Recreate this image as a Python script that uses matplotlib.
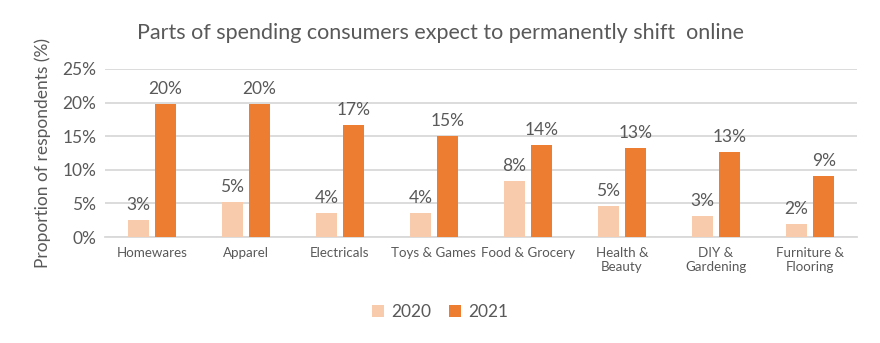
import numpy as np
import matplotlib.pyplot as plt

categories = ["Homewares", "Apparel", "Electricals", "Toys & Games", "Food & Grocery",
              "Health &\nBeauty", "DIY &\nGardening", "Furniture &\nFlooring"]
vals_2020 = [2.6, 5.2, 3.6, 3.6, 8.3, 4.6, 3.1, 1.9]
vals_2021 = [19.8, 19.8, 16.6, 15.0, 13.7, 13.2, 12.6, 9.1]
years = ["2020", "2021"]

c2020 = "#F8CBAD"
c2021 = "#ED7D31"
txt = "#595959"
grid = "#D9D9D9"

plt.rcParams['font.family'] = ['Lato', 'DejaVu Sans']

fig = plt.figure(figsize=(8.8, 3.43), dpi=100)
ax = fig.add_axes([0.119, 0.309, 0.855, 0.49])

x = np.arange(len(categories))
w = 0.225
off = 0.144
b1 = ax.bar(x - off, vals_2020, w, color=c2020, label=years[0], zorder=3)
b2 = ax.bar(x + off, vals_2021, w, color=c2021, label=years[1], zorder=3)

for bars in (b1, b2):
    for r in bars:
        v = r.get_height()
        ax.annotate("%d%%" % round(v), (r.get_x() + r.get_width() / 2, v),
                    xytext=(0, 5), textcoords="offset points",
                    ha="center", va="bottom", fontsize=12.5, color=txt)

ax.set_xlim(-0.5, len(categories) - 0.5)
ax.set_ylim(0, 25)
ax.set_yticks([0, 5, 10, 15, 20, 25])
ax.set_yticklabels(["%d%%" % t for t in [0, 5, 10, 15, 20, 25]], fontsize=12.5, color=txt)
ax.set_xticks(x)
ax.set_xticklabels(categories, fontsize=9.6, color=txt, linespacing=1.2)
ax.tick_params(axis="both", length=0)
ax.tick_params(axis="x", pad=7)
ax.tick_params(axis="y", pad=6)

ax.grid(axis="y", color=grid, linewidth=1.3, zorder=0)
for s in ["left", "right", "top"]:
    ax.spines[s].set_visible(False)
ax.spines["bottom"].set_color(grid)
ax.spines["bottom"].set_linewidth(1.3)

ax.set_ylabel("Proportion of respondents (%)", fontsize=12.5, color=txt, labelpad=8)

fig.text(0.5, 0.905, "Parts of spending consumers expect to permanently shift  online",
         ha="center", va="center", fontsize=15.5, color=txt)

leg = fig.legend(loc="center", bbox_to_anchor=(0.5, 0.09), ncol=2, frameon=False,
                 fontsize=12.5, handlelength=0.7, handleheight=0.7, columnspacing=1.0,
                 handletextpad=0.4)
for t in leg.get_texts():
    t.set_color(txt)

fig.savefig("out.png", dpi=100)
